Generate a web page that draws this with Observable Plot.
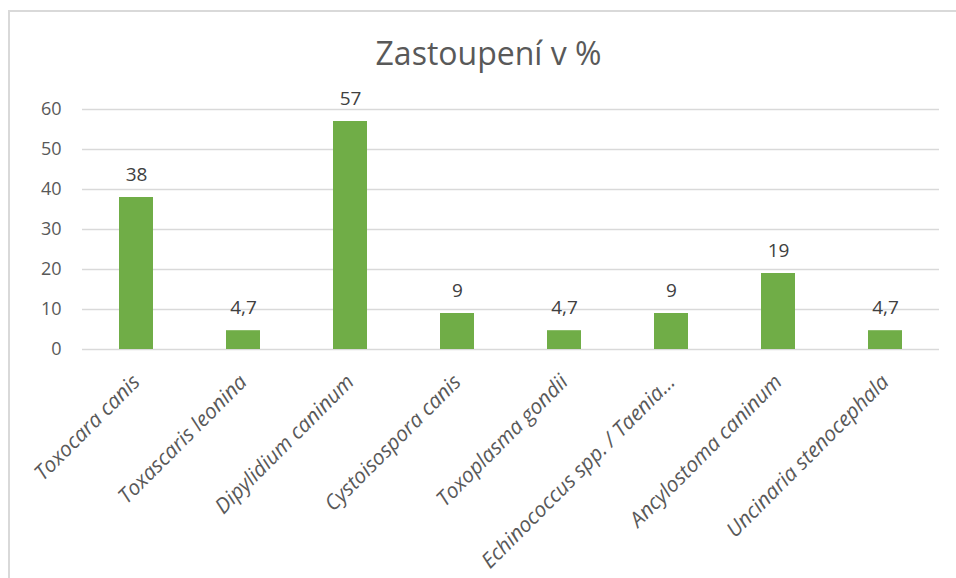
<!DOCTYPE html>
<html>
<head>
<meta charset="utf-8">
<script src="https://cdn.jsdelivr.net/npm/d3@7"></script>
<script src="https://cdn.jsdelivr.net/npm/@observablehq/plot@0.6"></script>
<style>
  html, body { margin: 0; padding: 0; background: #fff; }
  #wrap { position: relative; width: 956px; height: 578px; overflow: hidden; font-family: "Open Sans", sans-serif; }
  #frame { position: absolute; left: 8px; top: 10px; width: 960px; height: 580px; border-left: 2px solid #d9d9d9; border-top: 2px solid #d9d9d9; box-sizing: border-box; }
  #title { position: absolute; left: 0; width: 977px; top: 33px; text-align: center; font-size: 32px; color: #595959; line-height: 40px; }
  #chart { position: absolute; left: 0; top: 0; }
</style>
</head>
<body>
<div id="wrap">
  <div id="frame"></div>
  <div id="chart"></div>
  <div id="title">Zastoupení v %</div>
</div>
<script>
const categories = [
  "Toxocara canis",
  "Toxascaris leonina",
  "Dipylidium caninum",
  "Cystoisospora canis",
  "Toxoplasma gondii",
  "Echinococcus spp. / Taenia...",
  "Ancylostoma caninum",
  "Uncinaria stenocephala"
];
const values = [38, 4.7, 57, 9, 4.7, 9, 19, 4.7];
const valueLabels = ["38", "4,7", "57", "9", "4,7", "9", "19", "4,7"];
const yTicks = [0, 10, 20, 30, 40, 50, 60];

const data = categories.map((c, i) => ({name: c, value: values[i], label: valueLabels[i]}));

const chart = Plot.plot({
  width: 956,
  height: 578,
  marginLeft: 82,
  marginRight: 17,
  marginTop: 109,
  marginBottom: 229,
  style: {fontFamily: "Open Sans, sans-serif", background: "transparent"},
  x: {domain: categories, paddingInner: 0.683, paddingOuter: 0.3415, label: null},
  y: {domain: [0, 60], label: null},
  marks: [
    Plot.ruleY(yTicks, {stroke: "#d9d9d9", strokeWidth: 1.5}),
    Plot.barY(data, {x: "name", y: "value", fill: "#70ad47"}),
    Plot.text(data, {x: "name", y: "value", text: "label", dy: -17, lineAnchor: "bottom", fontSize: 19, fill: "#404040"}),
    Plot.axisY({ticks: yTicks, tickSize: 0, tickPadding: 21, fontSize: 18, color: "#595959", label: null}),
    Plot.axisX({tickSize: 0, tickPadding: 29, tickRotate: -45, fontSize: 21, fontStyle: "italic", color: "#595959", label: null})
  ]
});
document.getElementById("chart").appendChild(chart);
</script>
</body>
</html>
